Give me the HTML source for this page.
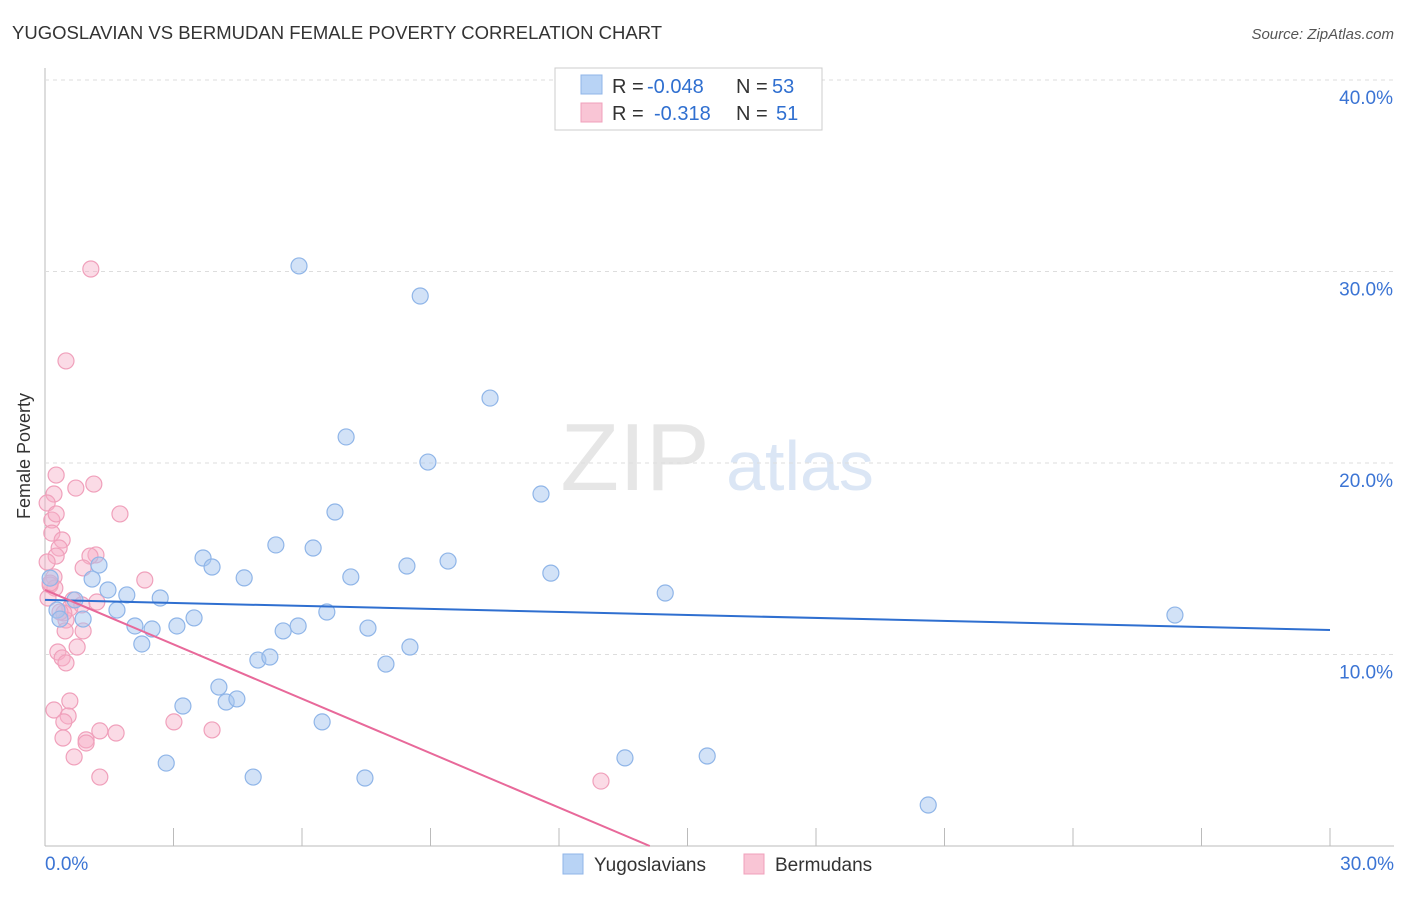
<!DOCTYPE html>
<html><head><meta charset="utf-8"><style>
body{margin:0;background:#fff;font-family:"Liberation Sans",sans-serif}
svg text{font-family:"Liberation Sans",sans-serif}
</style></head><body>
<svg id="c" width="1406" height="892">
<text x="12" y="39" font-size="18.5" fill="#333">YUGOSLAVIAN VS BERMUDAN FEMALE POVERTY CORRELATION CHART</text>
<text x="1394" y="39" font-size="15" fill="#555" text-anchor="end" font-style="italic">Source: ZipAtlas.com</text>
<text x="30" y="456" font-size="18" fill="#333" transform="rotate(-90 30 456)" text-anchor="middle">Female Poverty</text>
<text x="635" y="490" font-size="96" fill="#e6e6e6" text-anchor="middle" font-family="Liberation Serif">ZIP</text>
<text x="800" y="490" font-size="70" fill="#dbe6f5" text-anchor="middle">atlas</text>
<g id="grid"></g><g id="pts"></g><g id="lines"></g>
<g>
<rect x="555" y="68" width="267" height="62" fill="#fff" stroke="#ccc"/>
<rect x="581" y="75" width="21" height="19" fill="#b8d3f5" stroke="#8fb5e8"/>
<rect x="581" y="103" width="21" height="19" fill="#f9c5d5" stroke="#f0a0bb"/>
<text y="93" font-size="20" fill="#333"><tspan x="612">R =</tspan><tspan x="647" fill="#2f6fd0">-0.048</tspan><tspan x="736">N =</tspan><tspan x="772" fill="#2f6fd0">53</tspan></text>
<text y="120" font-size="20" fill="#333"><tspan x="612">R =</tspan><tspan x="654" fill="#2f6fd0">-0.318</tspan><tspan x="736">N =</tspan><tspan x="776" fill="#2f6fd0">51</tspan></text>
</g>
<g>
<rect x="563" y="854" width="20" height="20" fill="#b8d3f5" stroke="#8fb5e8"/>
<text x="594" y="871" font-size="19" fill="#333">Yugoslavians</text>
<rect x="744" y="854" width="20" height="20" fill="#f9c5d5" stroke="#f0a0bb"/>
<text x="775" y="871" font-size="19" fill="#333">Bermudans</text>
</g>
</svg>
<script>
const yTicks=[10,20,30,40];
const xLabels=["0.0%","30.0%"];
const blueX=[5.93,8.76,10.39,7.03,8.94,11.58,6.77,3.69,5.39,6.26,3.90,1.26,1.10,4.65,7.14,8.45,9.41,11.81,14.48,26.38,1.47,1.91,2.69,1.68,0.89,2.10,2.50,3.08,3.48,5.56,5.91,6.58,7.54,2.26,4.97,5.25,7.96,8.52,4.06,4.23,4.48,3.22,6.47,2.83,4.86,7.47,13.54,15.46,20.62,0.12,0.28,0.70,0.35];
const blueY=[30.29,28.72,23.39,21.36,20.05,18.38,17.44,15.04,15.72,15.56,14.57,14.67,13.94,14.00,14.05,14.62,14.88,14.25,13.21,12.06,13.37,13.11,12.95,12.32,11.85,11.49,11.33,11.49,11.91,11.23,11.49,12.22,11.38,10.55,9.71,9.87,9.50,10.39,8.30,7.52,7.68,7.31,6.48,4.33,3.60,3.55,4.60,4.70,2.14,13.99,12.32,12.85,11.85];
const pinkX=[1.07,0.49,0.26,0.72,1.14,0.21,0.05,1.75,0.16,0.16,0.40,0.33,1.19,0.26,1.05,0.05,0.89,0.21,2.33,0.12,0.23,0.65,1.21,0.58,0.86,0.49,0.47,0.89,0.75,0.30,0.40,0.49,0.58,0.21,0.54,0.44,3.01,0.42,0.96,1.28,1.66,3.90,0.96,0.68,1.28,12.98,0.12,0.07,0.44,0.26,0.35];
const pinkY=[30.13,25.33,19.37,18.69,18.90,18.38,17.91,17.34,17.02,16.34,15.98,15.56,15.20,15.14,15.14,14.83,14.52,14.05,13.89,13.63,13.47,12.85,12.74,12.43,12.59,11.80,11.23,11.23,10.39,10.13,9.82,9.56,7.57,7.10,6.79,6.48,6.48,5.64,5.54,6.01,5.90,6.06,5.38,4.65,3.60,3.39,13.73,12.95,12.17,17.34,12.22];
const blueTrend=[12.85,-0.0523];
const pinkTrend=[13.37,-0.947];
const X=v=>45+v*(1285/30), Y=v=>846-v*19.15;
const NS="http://www.w3.org/2000/svg";
function mk(t,a,p){const e=document.createElementNS(NS,t);for(const k in a)e.setAttribute(k,a[k]);p.appendChild(e);return e;}
const g=document.getElementById('grid');
const ax=mk('line',{x1:45,y1:68,x2:45,y2:846,stroke:'#bbb'},g);


const bx=mk('line',{x1:45,y1:846,x2:1394,y2:846,stroke:'#bbb'},g);


yTicks.forEach(t=>{
 const l=mk('line',{x1:45,y1:Y(t),x2:1394,y2:Y(t),stroke:'#ddd','stroke-dasharray':'4,4'},g);
 
 
 const tx=mk('text',{x:1393,y:Y(t)+24,'font-size':19,fill:'#3b74d4','text-anchor':'end'},g);
 tx.textContent=t.toFixed(1)+'%';
 
 
});
for(let i=1;i<=10;i++){const l=mk('line',{x1:X(i*3),y1:828,x2:X(i*3),y2:846,stroke:'#bbb'},g);
 
 }
const t0=mk('text',{x:45,y:870,'font-size':19,fill:'#3b74d4'},g);t0.textContent=xLabels[0];


const t1=mk('text',{x:1394,y:870,'font-size':19,fill:'#3b74d4','text-anchor':'end'},g);t1.textContent=xLabels[1];


const p=document.getElementById('pts');
pinkX.forEach((x,i)=>{const c=mk('circle',{cx:X(x),cy:Y(pinkY[i]),r:8,fill:'rgba(246,175,200,0.45)',stroke:'#f0a0bb','stroke-width':1.2},p);
 
 });
blueX.forEach((x,i)=>{const c=mk('circle',{cx:X(x),cy:Y(blueY[i]),r:8,fill:'rgba(165,198,240,0.5)',stroke:'#8fb5e8','stroke-width':1.2},p);
 
 });
const L=document.getElementById('lines');
const bl=mk('line',{x1:X(0),y1:Y(blueTrend[0]),x2:X(30),y2:Y(blueTrend[0]+blueTrend[1]*30),stroke:'#2f6fd0','stroke-width':2},L);


const xe=-pinkTrend[0]/pinkTrend[1];
const pl=mk('line',{x1:X(0),y1:Y(pinkTrend[0]),x2:X(xe),y2:Y(0),stroke:'#e8699a','stroke-width':2},L);


</script>
</body></html>
